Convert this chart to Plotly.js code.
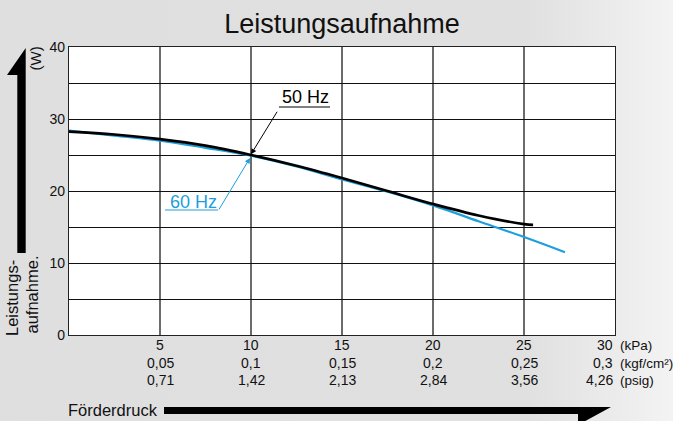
<!DOCTYPE html>
<html>
<head>
<meta charset="utf-8">
<script src="https://cdn.plot.ly/plotly-3.0.1.min.js"></script>
<style>
  html, body { margin: 0; padding: 0; }
  body { width: 673px; height: 421px; overflow: hidden;
         background: linear-gradient(to right, #dfdfdf 0%, #e0e0e0 78%, #f3f3f3 100%); }
  #chart { width: 673px; height: 421px; }
</style>
</head>
<body>
<div id="chart"></div>
<script>
// ---- data ----
const pressure50 = [0, 2.5, 5, 7.5, 10, 12.5, 15, 17.5, 20, 22.5, 25, 25.5];
const power50    = [28.25, 27.85, 27.2, 26.3, 25.0, 23.5, 21.8, 20.0, 18.2, 16.6, 15.4, 15.3];
const pressure60 = [0, 2.5, 5, 7.5, 10, 12.5, 15, 17.5, 20, 22.5, 25, 27.25];
const power60    = [28.4, 27.7, 27.0, 26.0, 24.9, 23.4, 21.6, 19.9, 18.0, 15.8, 13.6, 11.5];

const xTicks     = [5, 10, 15, 20, 25, 30];
const kpaLabels  = ['5', '10', '15', '20', '25', '30'];
const kgfLabels  = ['0,05', '0,1', '0,15', '0,2', '0,25', '0,3'];
const psigLabels = ['0,71', '1,42', '2,13', '2,84', '3,56', '4,26'];
const unitLabels = ['(kPa)', '(kgf/cm²)', '(psig)'];
const yTicks     = [0, 5, 10, 15, 20, 25, 30, 35, 40];
const yLabels    = ['0', '', '10', '', '20', '', '30', '', '40'];

const titleText = 'Leistungsaufnahme';
const yTitle1 = 'Leistungs-';
const yTitle2 = 'aufnahme.';
const yUnit = '(W)';
const xTitle = 'Förderdruck';
const label50 = '50 Hz';
const label60 = '60 Hz';

// ---- layout helpers (pixel -> paper) ----
const W = 673, H = 421;
const M = {l: 69, r: 58, t: 47, b: 86};
const PW = W - M.l - M.r, PH = H - M.t - M.b;
const px = x => (x - M.l) / PW;
const py = y => (H - M.b - y) / PH;

const BLUE = '#1c9fdc';
const FONT = 'Liberation Sans, Arial, sans-serif';

const traces = [
  {x: pressure60, y: power60, mode: 'lines', line: {color: BLUE, width: 2.2, shape: 'spline'}, hoverinfo: 'skip'},
  {x: pressure50, y: power50, mode: 'lines', line: {color: '#000', width: 2.6, shape: 'spline'}, hoverinfo: 'skip'}
];

const ann = [];
const rowsY = [345, 363, 380];
const rows = [kpaLabels, kgfLabels, psigLabels];
rows.forEach((row, r) => {
  row.forEach((t, i) => {
    const last = i === row.length - 1;
    ann.push({x: xTicks[i], xref: 'x', y: py(rowsY[r]), yref: 'paper', text: t, showarrow: false,
      xanchor: last ? 'right' : 'center', yanchor: 'middle', xshift: last ? 0 : 0,
      font: {family: FONT, size: 14, color: '#111'}});
  });
  ann.push({x: xTicks[xTicks.length - 1], xref: 'x', y: py(rowsY[r]), yref: 'paper', text: unitLabels[r],
    showarrow: false, xanchor: 'left', yanchor: 'middle', xshift: 3,
    font: {family: FONT, size: 13.5, color: '#111'}});
});

// axis titles
ann.push({x: px(12), y: py(338), xref: 'paper', yref: 'paper', text: yTitle1, textangle: -90,
  showarrow: false, xanchor: 'center', yanchor: 'bottom', font: {family: FONT, size: 16.5, color: '#111'}});
ann.push({x: px(31.5), y: py(336), xref: 'paper', yref: 'paper', text: yTitle2, textangle: -90,
  showarrow: false, xanchor: 'center', yanchor: 'bottom', font: {family: FONT, size: 16.5, color: '#111'}});
ann.push({x: px(35.5), y: py(59), xref: 'paper', yref: 'paper', text: yUnit, textangle: -90,
  showarrow: false, xanchor: 'center', yanchor: 'middle', font: {family: FONT, size: 15, color: '#111'}});
ann.push({x: px(66), y: py(410), xref: 'paper', yref: 'paper', text: xTitle,
  showarrow: false, xanchor: 'left', yanchor: 'middle', font: {family: FONT, size: 16.5, color: '#111'}});

// legend labels
ann.push({x: px(305), y: py(97), xref: 'paper', yref: 'paper', text: label50, showarrow: false,
  xanchor: 'center', yanchor: 'middle', font: {family: FONT, size: 18, color: '#000'}});
ann.push({x: px(193), y: py(202), xref: 'paper', yref: 'paper', text: label60, showarrow: false,
  xanchor: 'center', yanchor: 'middle', font: {family: FONT, size: 18, color: BLUE}});
// leader arrows
ann.push({x: 10, y: 25.1, xref: 'x', yref: 'y', text: '', showarrow: true, arrowhead: 2, arrowsize: 1.1,
  arrowwidth: 1, arrowcolor: '#000', ax: 27, ay: -44, axref: 'pixel', ayref: 'pixel', standoff: 0});
ann.push({x: 9.95, y: 24.6, xref: 'x', yref: 'y', text: '', showarrow: true, arrowhead: 2, arrowsize: 1.1,
  arrowwidth: 1, arrowcolor: BLUE, ax: -32, ay: 53, axref: 'pixel', ayref: 'pixel', standoff: 0});

const shapes = [
  // underlines
  {type: 'line', xref: 'paper', yref: 'paper', x0: px(279), x1: px(330), y0: py(107), y1: py(107), line: {color: '#000', width: 1}},
  {type: 'line', xref: 'paper', yref: 'paper', x0: px(165), x1: px(218), y0: py(210), y1: py(210), line: {color: BLUE, width: 1}},
  // vertical arrow
  {type: 'path', xref: 'paper', yref: 'paper', fillcolor: '#000', line: {width: 0},
   path: `M${px(17.3)},${py(253)} L${px(25.7)},${py(253)} L${px(25.7)},${py(48)} L${px(7)},${py(75)} L${px(17.3)},${py(75)} Z`},
  // horizontal arrow
  {type: 'path', xref: 'paper', yref: 'paper', fillcolor: '#000', line: {width: 0},
   path: `M${px(164)},${py(414)} L${px(164)},${py(407)} L${px(611)},${py(407)} L${px(578)},${py(425)} L${px(578)},${py(414)} Z`}
];

const layout = {
  width: W, height: H,
  margin: M,
  paper_bgcolor: 'rgba(0,0,0,0)',
  plot_bgcolor: '#ffffff',
  showlegend: false,
  title: {text: titleText, font: {family: FONT, size: 27, color: '#111'},
          x: 0.5, xref: 'paper', xanchor: 'center', y: 1 - 24 / H, yref: 'container', yanchor: 'middle'},
  xaxis: {range: [0, 30], tickvals: xTicks, showticklabels: false, ticks: '',
          showgrid: true, gridcolor: '#6b6b6b', gridwidth: 1.2, zeroline: false,
          showline: true, linecolor: '#222', linewidth: 1.2, mirror: true, fixedrange: true},
  yaxis: {range: [0, 40], tickvals: yTicks, ticktext: yLabels, ticks: '',
          tickfont: {family: FONT, size: 14, color: '#111'},
          showgrid: true, gridcolor: '#111', gridwidth: 1, zeroline: false,
          showline: true, linecolor: '#222', linewidth: 1.2, mirror: true, fixedrange: true},
  annotations: ann,
  shapes: shapes
};

Plotly.newPlot('chart', traces, layout, {displayModeBar: false, staticPlot: true});
</script>
</body>
</html>
